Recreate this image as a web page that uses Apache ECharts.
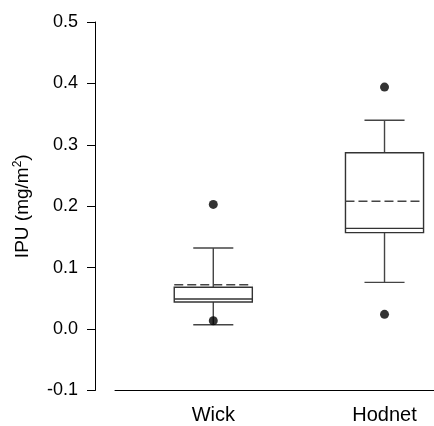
<!DOCTYPE html>
<html>
<head>
<meta charset="utf-8">
<script src="https://cdn.jsdelivr.net/npm/echarts@6/dist/echarts.min.js"></script>
<style>html,body{margin:0;padding:0;background:#fff}#c{width:434px;height:426px}</style>
</head>
<body>
<div id="c"></div>
<script>
const categories = ['Wick', 'Hodnet'];
const positions = [1, 2];
const whiskerLow = [0.007, 0.076];
const q1 = [0.044, 0.157];
const median = [0.049, 0.164];
const q3 = [0.068, 0.287];
const whiskerHigh = [0.132, 0.340];
const means = [0.072, 0.208];
const outliers = [[1, 0.203], [1, 0.0135], [2, 0.394], [2, 0.024]];
const yTicks = [-0.1, 0.0, 0.1, 0.2, 0.3, 0.4, 0.5];

const boxData = categories.map((c, i) => [positions[i], whiskerLow[i], q1[i], median[i], q3[i], whiskerHigh[i], means[i]]);
const BOX_HALF = 0.228, CAP_HALF = 0.117;

function renderBox(params, api) {
  const x = api.value(0);
  const pL = api.coord([x - BOX_HALF, 0])[0];
  const pR = api.coord([x + BOX_HALF, 0])[0];
  const cL = api.coord([x - CAP_HALF, 0])[0];
  const cR = api.coord([x + CAP_HALF, 0])[0];
  const cx = api.coord([x, 0])[0];
  const y = k => api.coord([x, api.value(k)])[1];
  const yLo = y(1), yQ1 = y(2), yMed = y(3), yQ3 = y(4), yHi = y(5), yMean = y(6);
  const wstyle = {stroke: '#444', lineWidth: 1.4};
  const bstyle = {stroke: '#333', lineWidth: 1.4, fill: 'none'};
  return {
    type: 'group',
    children: [
      {type: 'line', shape: {x1: cx, y1: yQ3, x2: cx, y2: yHi}, style: wstyle},
      {type: 'line', shape: {x1: cx, y1: yQ1, x2: cx, y2: yLo}, style: wstyle},
      {type: 'line', shape: {x1: cL, y1: yHi, x2: cR, y2: yHi}, style: wstyle},
      {type: 'line', shape: {x1: cL, y1: yLo, x2: cR, y2: yLo}, style: wstyle},
      {type: 'rect', shape: {x: pL, y: yQ3, width: pR - pL, height: yQ1 - yQ3}, style: {stroke: '#333', lineWidth: 1.4, fill: '#fff'}},
      {type: 'line', shape: {x1: pL, y1: yMed, x2: pR, y2: yMed}, style: bstyle},
      {type: 'line', shape: {x1: pL, y1: yMean, x2: pR, y2: yMean}, style: {stroke: '#444', lineWidth: 1.5, lineDash: [9, 4]}}
    ]
  };
}

const FONT = 'Liberation Sans, Arial, sans-serif';
const chart = echarts.init(document.getElementById('c'), null, {renderer: 'canvas'});
chart.setOption({
  animation: false,
  backgroundColor: '#fff',
  grid: {left: 115, right: 0, top: 22, bottom: 35.5},
  xAxis: {
    type: 'value', min: 0.426, max: 2.289,
    axisLine: {show: true, onZero: false, lineStyle: {color: '#000', width: 1}},
    axisTick: {show: false},
    splitLine: {show: false},
    axisLabel: {
      customValues: positions,
      formatter: v => categories[positions.indexOf(Math.round(v))] || '',
      fontFamily: FONT, fontSize: 20, color: '#000', margin: 15
    }
  },
  yAxis: {
    type: 'value', min: -0.1, max: 0.5, interval: 0.1, offset: 20,
    axisLine: {show: true, lineStyle: {color: '#000', width: 1}},
    axisTick: {show: true, length: 8, lineStyle: {color: '#000'}},
    splitLine: {show: false},
    axisLabel: {formatter: v => Number(v).toFixed(1), fontFamily: FONT, fontSize: 18, color: '#000', margin: 17},
    name: '{a|IPU (mg/m}{s|2}{a|)}',
    nameLocation: 'middle', nameGap: 61,
    nameTextStyle: {
      rich: {
        a: {fontFamily: FONT, fontSize: 19, color: '#000'},
        s: {fontFamily: FONT, fontSize: 12, color: '#000', verticalAlign: 'top', padding: [0, 0, 10, 0]}
      }
    }
  },
  series: [
    {type: 'custom', renderItem: renderBox, data: boxData, encode: {x: 0, y: [1, 5]}, z: 2},
    {type: 'scatter', data: outliers, symbol: 'circle', symbolSize: 9, itemStyle: {color: '#000'}, z: 3}
  ]
});
</script>
</body>
</html>
